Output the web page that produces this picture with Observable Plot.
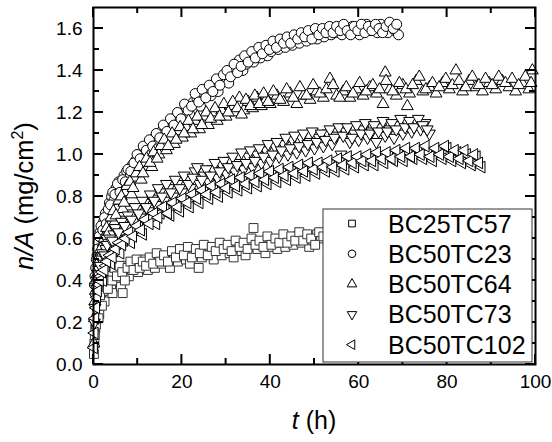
<!DOCTYPE html>
<html><head><meta charset="utf-8">
<script src="https://cdn.jsdelivr.net/npm/d3@7"></script>
<script src="https://cdn.jsdelivr.net/npm/@observablehq/plot@0.6"></script>
<style>
body{margin:0;background:#fff;}
#chart{position:relative;width:552px;height:442px;}
</style></head><body><div id="chart"></div>
<script>
const seriesNames = ["BC25TC57","BC50TC23","BC50TC64","BC50TC73","BC50TC102"];

const bc25tc57 = [[0.2,0.10],[0.4,0.17],[0.7,0.22],[1.0,0.26],[1.3,0.24],[1.7,0.31],[2.1,0.35],[2.5,0.30],[3.0,0.38],[3.5,0.41],[4.0,0.36],[4.3,0.34],[4.5,0.43],[5.0,0.40],[5.6,0.45],[6.2,0.37],[6.6,0.34],[6.8,0.44],[7.4,0.47],[8.0,0.42],[8.7,0.45],[9.4,0.48],[10.1,0.44],[10.8,0.47],[11.5,0.50],[12.3,0.45],[13.1,0.49],[13.9,0.46],[14.7,0.51],[15.5,0.48],[16.4,0.50],[17.3,0.46],[18.2,0.52],[19.1,0.49],[20.0,0.53],[20.9,0.50],[21.8,0.48],[22.7,0.54],[23.8,0.46],[24.5,0.51],[25.4,0.53],[26.3,0.55],[27.2,0.50],[28.1,0.54],[29.0,0.52],[29.9,0.56],[30.8,0.53],[31.7,0.51],[32.6,0.57],[33.5,0.54],[34.4,0.52],[35.3,0.56],[36.2,0.65],[37.1,0.55],[38.0,0.57],[38.9,0.53],[39.8,0.56],[40.7,0.59],[41.6,0.55],[42.5,0.58],[43.4,0.56],[44.3,0.60],[45.2,0.57],[46.1,0.61],[47.0,0.58],[47.9,0.60],[48.8,0.56],[49.7,0.59],[50.6,0.62],[51.5,0.60],[53,0.58],[56,0.61],[60,0.60],
[0.1,0.05],[0.3,0.14],[0.55,0.19],[0.85,0.28],[1.15,0.22],[1.5,0.33],[1.9,0.28],[2.3,0.37],[2.75,0.40],[3.25,0.36],[3.75,0.44],[4.25,0.40],[4.75,0.46],[5.3,0.42],[5.9,0.47],[6.5,0.44],[7.1,0.40],[7.7,0.46],[8.35,0.49],[9.05,0.45],[9.75,0.50],[10.45,0.46],[11.15,0.49],[11.9,0.47],[12.7,0.51],[13.5,0.48],[14.3,0.53],[15.1,0.49],[15.95,0.52],[16.85,0.49],[17.75,0.54],[18.65,0.51],[19.55,0.55],[20.45,0.52],[21.35,0.56],[22.25,0.51],[23.15,0.55],[24.05,0.53],[24.95,0.57],[25.85,0.52],[26.75,0.56],[27.65,0.54],[28.55,0.58],[29.45,0.55],[30.35,0.57],[31.25,0.54],[32.15,0.59],[33.05,0.56],[33.95,0.58],[34.85,0.55],[35.75,0.60],[36.65,0.57],[37.55,0.59],[38.45,0.56],[39.35,0.61],[40.25,0.57],[41.15,0.60],[42.05,0.58],[42.95,0.62],[43.85,0.58],[44.75,0.61],[45.65,0.59],[46.55,0.63],[47.45,0.59],[48.35,0.62],[49.25,0.60],[50.15,0.57],[51.05,0.63],[52.0,0.61]];

const bc50tc23 = [[0.2,0.38],[0.5,0.46],[0.8,0.52],[1.1,0.58],[1.5,0.63],[1.9,0.60],[2.3,0.68],[2.7,0.72],[3.1,0.70],[3.6,0.77],[4.1,0.80],[4.6,0.78],[5.1,0.84],[5.7,0.87],[6.3,0.84],[6.9,0.90],[7.5,0.92],[8.1,0.89],[8.8,0.95],[9.5,0.97],[10.2,0.94],[10.9,1.00],[11.6,1.03],[12.3,1.00],[13.0,1.06],[13.8,1.08],[14.6,1.05],[15.4,1.11],[16.2,1.13],[17.0,1.10],[17.8,1.16],[18.6,1.18],[19.4,1.14],[20.2,1.20],[21.0,1.22],[21.8,1.19],[22.6,1.25],[23.4,1.27],[24.2,1.23],[25.0,1.29],[25.8,1.31],[26.6,1.28],[27.4,1.33],[28.2,1.30],[29.0,1.35],[29.8,1.37],[30.6,1.34],[31.4,1.39],[32.2,1.41],[33.0,1.45],[33.8,1.40],[34.6,1.43],[35.4,1.46],[36.2,1.44],[37.0,1.48],[37.8,1.46],[38.6,1.50],[39.4,1.47],[40.2,1.49],[41.0,1.52],[41.8,1.50],[42.6,1.53],[43.4,1.51],[44.2,1.54],[45.0,1.52],[45.8,1.55],[46.6,1.53],[47.4,1.56],[48.2,1.54],[49.0,1.57],[49.8,1.58],[50.6,1.55],[51.4,1.58],[52.2,1.56],[53.0,1.59],[53.8,1.57],[54.6,1.60],[55.4,1.58],[56.2,1.57],[57.0,1.60],[57.8,1.58],[58.6,1.61],[59.4,1.59],[60.2,1.57],[61.0,1.60],[61.8,1.62],[62.6,1.59],[63.4,1.61],[64.2,1.58],[65.0,1.62],[65.8,1.60],[66.6,1.58],[67.4,1.61],[68.2,1.59],[69.0,1.57],
[0.35,0.42],[0.65,0.50],[0.95,0.55],[1.3,0.61],[1.7,0.66],[2.1,0.64],[2.5,0.70],[2.9,0.67],[3.35,0.74],[3.85,0.76],[4.35,0.82],[4.85,0.81],[5.4,0.86],[6.0,0.82],[6.6,0.88],[7.2,0.87],[7.8,0.93],[8.45,0.92],[9.15,0.96],[9.85,1.00],[10.55,0.98],[11.25,1.04],[11.95,1.02],[12.65,1.07],[13.4,1.04],[14.2,1.10],[15.0,1.08],[15.8,1.14],[16.6,1.11],[17.4,1.17],[18.2,1.14],[19.0,1.20],[19.8,1.17],[20.6,1.24],[21.4,1.21],[22.2,1.23],[23.0,1.29],[23.8,1.25],[24.6,1.31],[25.4,1.27],[26.2,1.33],[27.0,1.30],[27.8,1.36],[28.6,1.33],[29.4,1.38],[30.2,1.40],[31.0,1.37],[31.8,1.43],[32.6,1.39],[33.4,1.42],[34.2,1.47],[35.0,1.44],[35.8,1.49],[36.6,1.46],[37.4,1.51],[38.2,1.48],[39.0,1.52],[39.8,1.50],[40.6,1.54],[41.4,1.51],[42.2,1.55],[43.0,1.53],[43.8,1.56],[44.6,1.53],[45.4,1.57],[46.2,1.55],[47.0,1.58],[47.8,1.56],[48.6,1.59],[49.4,1.55],[50.2,1.60],[51.0,1.57],[51.8,1.60],[52.6,1.58],[53.4,1.61],[54.2,1.58],[55.0,1.61],[55.8,1.59],[56.6,1.62],[57.4,1.59],[58.2,1.57],[59.0,1.61],[59.8,1.59],[60.6,1.62],[61.4,1.58],[62.2,1.61],[63.0,1.59],[63.8,1.62],[64.6,1.60],[65.4,1.58],[66.2,1.61],[67.0,1.63],[67.8,1.60],[68.6,1.62]];

const bc50tc64 = [[0.1,0.10],[0.3,0.30],[0.6,0.40],[1.0,0.46],[1.4,0.52],[1.8,0.50],[2.2,0.58],[2.7,0.62],[3.2,0.60],[3.7,0.67],[4.2,0.70],[4.8,0.68],[5.4,0.75],[6.0,0.78],[6.6,0.74],[7.2,0.82],[7.9,0.85],[8.6,0.81],[9.3,0.89],[10.0,0.92],[10.8,0.88],[11.6,0.96],[12.4,0.99],[13.2,0.94],[14.0,1.02],[14.8,1.00],[15.6,1.05],[16.5,1.02],[17.4,1.08],[18.3,1.05],[19.2,1.11],[20.1,1.08],[21.0,1.13],[22.0,1.10],[23.0,1.16],[24.0,1.12],[25.0,1.18],[26.0,1.14],[27.0,1.20],[28.0,1.16],[29.0,1.21],[30.0,1.18],[31.0,1.23],[32.0,1.20],[33.0,1.27],[34.0,1.21],[35.0,1.25],[36.0,1.22],[37.0,1.27],[38.0,1.23],[39.0,1.26],[40.0,1.24],[41.5,1.28],[43.0,1.25],[44.5,1.29],[46.0,1.24],[47.5,1.28],[49.0,1.26],[50.5,1.30],[52.0,1.27],[53.5,1.36],[55.0,1.28],[56.5,1.30],[58.0,1.27],[59.5,1.31],[61.0,1.28],[62.5,1.32],[64.0,1.29],[65.5,1.24],[66.0,1.39],[67.0,1.31],[68.5,1.28],[70.0,1.33],[71.0,1.23],[71.5,1.29],[73.0,1.35],[74.5,1.30],[76.0,1.32],[77.5,1.29],[79.0,1.34],[80.5,1.31],[82.0,1.40],[83.5,1.30],[85.0,1.35],[86.5,1.32],[88.0,1.30],[89.5,1.34],[91.0,1.31],[92.5,1.35],[94.0,1.32],[95.5,1.30],[97.0,1.34],[98.5,1.31],[99.3,1.40],
[0.2,0.22],[0.45,0.35],[0.8,0.43],[1.2,0.49],[1.6,0.55],[2.0,0.53],[2.45,0.60],[2.95,0.65],[3.45,0.63],[3.95,0.70],[4.5,0.73],[5.1,0.71],[5.7,0.78],[6.3,0.80],[6.9,0.77],[7.55,0.85],[8.25,0.87],[8.95,0.84],[9.65,0.91],[10.4,0.94],[11.2,0.91],[12.0,0.98],[12.8,0.96],[13.6,1.01],[14.4,0.98],[15.2,1.04],[16.0,1.07],[16.9,1.04],[17.8,1.10],[18.7,1.07],[19.6,1.13],[20.5,1.10],[21.5,1.16],[22.5,1.12],[23.5,1.18],[24.5,1.14],[25.5,1.20],[26.5,1.17],[27.5,1.22],[28.5,1.18],[29.5,1.24],[30.5,1.20],[31.5,1.25],[32.5,1.22],[33.5,1.19],[34.5,1.26],[35.5,1.23],[36.5,1.28],[37.5,1.24],[38.5,1.29],[39.5,1.25],[40.7,1.30],[42.2,1.26],[43.7,1.31],[45.2,1.27],[46.7,1.32],[48.2,1.28],[49.7,1.33],[51.2,1.29],[52.7,1.31],[54.2,1.33],[55.7,1.27],[57.2,1.32],[58.7,1.29],[60.2,1.34],[61.7,1.30],[63.2,1.33],[64.7,1.31],[66.2,1.35],[67.7,1.30],[69.2,1.34],[70.7,1.31],[72.2,1.33],[73.7,1.37],[75.2,1.31],[76.7,1.34],[78.2,1.32],[79.7,1.36],[81.2,1.33],[82.7,1.35],[84.2,1.32],[85.7,1.37],[87.2,1.33],[88.7,1.36],[90.2,1.33],[91.7,1.37],[93.2,1.34],[94.7,1.36],[96.2,1.33],[97.7,1.37],[99.0,1.34]];

const bc50tc73 = [[0.2,0.20],[0.5,0.32],[0.9,0.40],[1.3,0.45],[1.8,0.50],[2.3,0.48],[2.8,0.55],[3.4,0.58],[4.0,0.55],[4.6,0.62],[5.3,0.64],[6.0,0.60],[6.7,0.67],[7.4,0.69],[8.2,0.65],[9.0,0.72],[9.8,0.74],[10.6,0.70],[11.5,0.77],[12.4,0.73],[13.3,0.79],[14.2,0.76],[15.1,0.82],[16.0,0.78],[17.0,0.84],[18.0,0.80],[19.0,0.86],[20.0,0.82],[21.0,0.88],[22.0,0.84],[23.0,0.92],[24.0,0.86],[25.0,0.90],[26.0,0.87],[27.0,0.93],[28.0,0.89],[29.0,0.95],[30.0,0.91],[31.0,0.97],[32.0,0.92],[33.0,0.96],[34.0,0.93],[35.0,0.99],[36.0,0.94],[37.0,1.00],[38.0,0.96],[39.0,1.02],[40.0,0.97],[41.0,1.04],[42.0,0.99],[43.0,1.05],[44.0,1.00],[45.0,1.07],[46.0,1.01],[47.0,1.08],[48.0,1.02],[49.0,1.06],[50.0,1.03],[51.0,1.08],[52.0,1.04],[53.0,1.10],[54.0,1.05],[55.0,1.09],[56.0,1.00],[57.0,1.11],[58.0,1.06],[59.0,1.10],[60.0,1.07],[61.0,1.12],[62.0,1.08],[63.0,1.11],[64.0,1.06],[65.0,1.13],[66.0,1.09],[67.0,1.12],[68.0,1.08],[69.0,1.14],[70.0,1.10],[71.0,1.15],[72.0,1.11],[73.0,1.16],[74.0,1.12],[75.0,1.15],[76.0,1.10],
[0.35,0.27],[0.7,0.36],[1.1,0.43],[1.55,0.47],[2.05,0.53],[2.55,0.52],[3.1,0.57],[3.7,0.60],[4.3,0.59],[4.95,0.65],[5.65,0.63],[6.35,0.68],[7.05,0.66],[7.8,0.71],[8.6,0.69],[9.4,0.75],[10.2,0.72],[11.05,0.78],[11.95,0.75],[12.85,0.81],[13.75,0.78],[14.65,0.84],[15.55,0.80],[16.5,0.86],[17.5,0.82],[18.5,0.88],[19.5,0.84],[20.5,0.90],[21.5,0.86],[22.5,0.89],[23.5,0.94],[24.5,0.88],[25.5,0.93],[26.5,0.90],[27.5,0.96],[28.5,0.92],[29.5,0.97],[30.5,0.94],[31.5,0.99],[32.5,0.95],[33.5,1.01],[34.5,0.96],[35.5,1.02],[36.5,0.97],[37.5,1.03],[38.5,0.99],[39.5,1.05],[40.5,1.00],[41.5,1.06],[42.5,1.02],[43.5,1.08],[44.5,1.03],[45.5,1.09],[46.5,1.04],[47.5,1.10],[48.5,1.05],[49.5,1.11],[50.5,1.06],[51.5,1.10],[52.5,1.07],[53.5,1.12],[54.5,1.08],[55.5,1.13],[56.5,1.09],[57.5,1.13],[58.5,1.08],[59.5,1.14],[60.5,1.10],[61.5,1.15],[62.5,1.10],[63.5,1.14],[64.5,1.11],[65.5,1.16],[66.5,1.11],[67.5,1.15],[68.5,1.12],[69.5,1.17],[70.5,1.13],[71.5,1.16],[72.5,1.13],[73.5,1.17],[74.5,1.14],[75.5,1.12]];

const bc50tc102 = [[0.1,0.08],[0.4,0.22],[0.8,0.32],[1.2,0.38],[1.7,0.42],[2.2,0.40],[2.8,0.47],[3.4,0.50],[4.0,0.48],[4.7,0.54],[5.4,0.56],[6.1,0.53],[6.9,0.59],[7.7,0.61],[8.5,0.58],[9.4,0.64],[10.3,0.66],[11.2,0.62],[12.2,0.68],[13.2,0.70],[14.2,0.67],[15.2,0.72],[16.3,0.74],[17.4,0.71],[18.5,0.76],[19.6,0.73],[20.7,0.78],[21.8,0.75],[22.9,0.80],[24.0,0.77],[25.1,0.82],[26.2,0.79],[27.3,0.83],[28.4,0.80],[29.5,0.85],[30.6,0.82],[31.7,0.86],[32.8,0.83],[33.9,0.87],[35.0,0.84],[36.1,0.88],[37.2,0.85],[38.3,0.89],[39.4,0.86],[40.5,0.90],[41.6,0.87],[42.7,0.91],[43.8,0.88],[44.9,0.92],[46.0,0.89],[47.1,0.93],[48.2,0.90],[49.3,0.93],[50.4,0.91],[51.5,0.94],[52.6,0.92],[53.7,0.95],[54.8,0.92],[55.9,0.96],[57.0,0.93],[58.1,0.97],[59.2,0.94],[60.3,0.97],[61.4,0.95],[62.5,0.98],[63.6,0.95],[64.7,0.99],[65.8,0.96],[66.9,0.99],[68.0,0.97],[69.1,1.00],[70.2,0.97],[71.3,1.01],[72.4,0.98],[73.5,1.02],[74.6,0.98],[75.7,1.01],[76.8,0.97],[77.9,1.02],[79.0,0.98],[80.1,1.03],[81.2,0.97],[82.3,1.01],[83.4,0.96],[84.5,1.00],[85.6,0.95],[86.7,0.99],[87.8,0.94],
[0.25,0.15],[0.6,0.27],[1.0,0.35],[1.45,0.40],[1.95,0.44],[2.5,0.45],[3.1,0.49],[3.7,0.52],[4.35,0.51],[5.05,0.55],[5.75,0.58],[6.5,0.57],[7.3,0.60],[8.1,0.63],[8.95,0.61],[9.85,0.66],[10.75,0.64],[11.7,0.69],[12.7,0.67],[13.7,0.72],[14.7,0.70],[15.75,0.75],[16.85,0.72],[17.95,0.77],[19.05,0.75],[20.15,0.79],[21.25,0.77],[22.35,0.81],[23.45,0.79],[24.55,0.83],[25.65,0.81],[26.75,0.85],[27.85,0.82],[28.95,0.86],[30.05,0.84],[31.15,0.88],[32.25,0.85],[33.35,0.89],[34.45,0.86],[35.55,0.90],[36.65,0.87],[37.75,0.91],[38.85,0.88],[39.95,0.92],[41.05,0.89],[42.15,0.93],[43.25,0.90],[44.35,0.94],[45.45,0.91],[46.55,0.95],[47.65,0.92],[48.75,0.96],[49.85,0.93],[50.95,0.96],[52.05,0.94],[53.15,0.97],[54.25,0.94],[55.35,0.98],[56.45,0.95],[57.55,0.99],[58.65,0.96],[59.75,0.99],[60.85,0.97],[61.95,1.00],[63.05,0.97],[64.15,1.01],[65.25,0.98],[66.35,1.01],[67.45,0.98],[68.55,1.02],[69.65,0.99],[70.75,1.03],[71.85,0.99],[72.95,1.03],[74.05,1.00],[75.15,1.04],[76.25,0.99],[77.35,1.03],[78.45,1.00],[79.55,1.04],[80.65,0.99],[81.75,1.02],[82.85,0.98],[83.95,1.02],[85.05,0.97],[86.15,1.00],[87.25,0.96]];

const xMajor = [0,20,40,60,80,100];
const xMinor = [10,30,50,70,90];
const yMajor = [0,0.2,0.4,0.6,0.8,1.0,1.2,1.4,1.6];
const yMinor = [0.1,0.3,0.5,0.7,0.9,1.1,1.3,1.5];

const sqrt3 = Math.sqrt(3);
const triDown = {draw(ctx,size){const y=-Math.sqrt(size/(sqrt3*3)); ctx.moveTo(0,-y*2); ctx.lineTo(-sqrt3*y,y); ctx.lineTo(sqrt3*y,y); ctx.closePath();}};
const triLeft = {draw(ctx,size){const y=-Math.sqrt(size/(sqrt3*3)); ctx.moveTo(y*2,0); ctx.lineTo(-y,-sqrt3*y); ctx.lineTo(-y,sqrt3*y); ctx.closePath();}};

const series = [
  {name: seriesNames[0], data: bc25tc57, symbol: "square", r: 5, stroke: "#333", lsize: 45},
  {name: seriesNames[1], data: bc50tc23, symbol: "circle", r: 5, stroke: "#000", lsize: 45},
  {name: seriesNames[2], data: bc50tc64, symbol: "triangle", r: 4.4, stroke: "#000", lsize: 40},
  {name: seriesNames[3], data: bc50tc73, symbol: triDown, r: 4.4, stroke: "#000", lsize: 40},
  {name: seriesNames[4], data: bc50tc102, symbol: triLeft, r: 4.4, stroke: "#000", lsize: 40}
];

const W = 552, H = 442, mL = 93, mR = 17, mT = 7, mB = 78;
const majorLen = 10, minorLen = 6;
const font = "'Liberation Sans', Arial, Helvetica, sans-serif";

const svg = Plot.plot({
  width: W, height: H,
  marginLeft: mL, marginRight: mR, marginTop: mT, marginBottom: mB,
  style: {fontFamily: font, fontSize: "19px", color: "#000", background: "#fff"},
  x: {domain: [0, 100], ticks: xMajor, tickSize: 0, tickPadding: 10, tickFormat: d => String(d), label: null},
  y: {domain: [0, 1.7], ticks: yMajor, tickSize: 0, tickPadding: 11, tickFormat: d => d.toFixed(1), label: null},
  marks: [
    ...series.map(s => Plot.dot(s.data, {x: d => d[0], y: d => d[1], symbol: s.symbol, r: s.r, fill: "white", stroke: s.stroke, strokeWidth: 1})),
    Plot.frame({stroke: "#000", strokeWidth: 2})
  ]
});
document.getElementById("chart").appendChild(svg);

const sel = d3.select(svg);
const xs = svg.scale("x"), ys = svg.scale("y");
const fLeft = mL, fRight = W - mR, fTop = mT, fBottom = H - mB;
const tg = sel.append("g").attr("stroke", "#000").attr("stroke-width", 2);
function xtick(v, len) {
  const px = xs.apply(v);
  tg.append("line").attr("x1", px).attr("x2", px).attr("y1", fBottom).attr("y2", fBottom - len);
  tg.append("line").attr("x1", px).attr("x2", px).attr("y1", fTop).attr("y2", fTop + len);
}
function ytick(v, len) {
  const py = ys.apply(v);
  tg.append("line").attr("y1", py).attr("y2", py).attr("x1", fLeft).attr("x2", fLeft + len);
  tg.append("line").attr("y1", py).attr("y2", py).attr("x1", fRight).attr("x2", fRight - len);
}
xMajor.forEach(v => xtick(v, majorLen));
xMinor.forEach(v => xtick(v, minorLen));
yMajor.forEach(v => ytick(v, majorLen));
yMinor.forEach(v => ytick(v, minorLen));

// axis titles
const xt = sel.append("text").attr("x", (fLeft + fRight) / 2).attr("y", 429).attr("text-anchor", "middle")
  .attr("font-family", font).attr("font-size", 25).attr("fill", "#000");
xt.append("tspan").attr("font-style", "italic").text("t");
xt.append("tspan").text(" (h)");

const yt = sel.append("text").attr("transform", `translate(33,196) rotate(-90)`).attr("text-anchor", "middle")
  .attr("font-family", font).attr("font-size", 25.5).attr("fill", "#000");
yt.append("tspan").attr("font-style", "italic").text("n/A");
yt.append("tspan").text(" (mg/cm");
yt.append("tspan").attr("font-size", 16).attr("dy", -10).text("2");
yt.append("tspan").attr("dy", 10).text(")");

// legend
const lg = sel.append("g");
const lx = 323, ly = 209, lw = 209, lh = 153, rowH = 30.3;
lg.append("rect").attr("x", lx).attr("y", ly).attr("width", lw).attr("height", lh)
  .attr("fill", "#fff").attr("stroke", "#333").attr("stroke-width", 1);
series.forEach((sr, i) => {
  const cy = ly + 14.5 + i * rowH;
  const sym = typeof sr.symbol === "string" ? {square: d3.symbolSquare, circle: d3.symbolCircle, triangle: d3.symbolTriangle}[sr.symbol] : sr.symbol;
  lg.append("path").attr("transform", `translate(352,${cy})`).attr("d", d3.symbol(sym, sr.lsize)())
    .attr("fill", "#fff").attr("stroke", "#000").attr("stroke-width", 1);
  lg.append("text").attr("x", 388).attr("y", cy).attr("dy", "0.36em").attr("text-anchor", "start")
    .attr("font-family", font).attr("font-size", 25).attr("fill", "#000").text(sr.name);
});
</script></body></html>
